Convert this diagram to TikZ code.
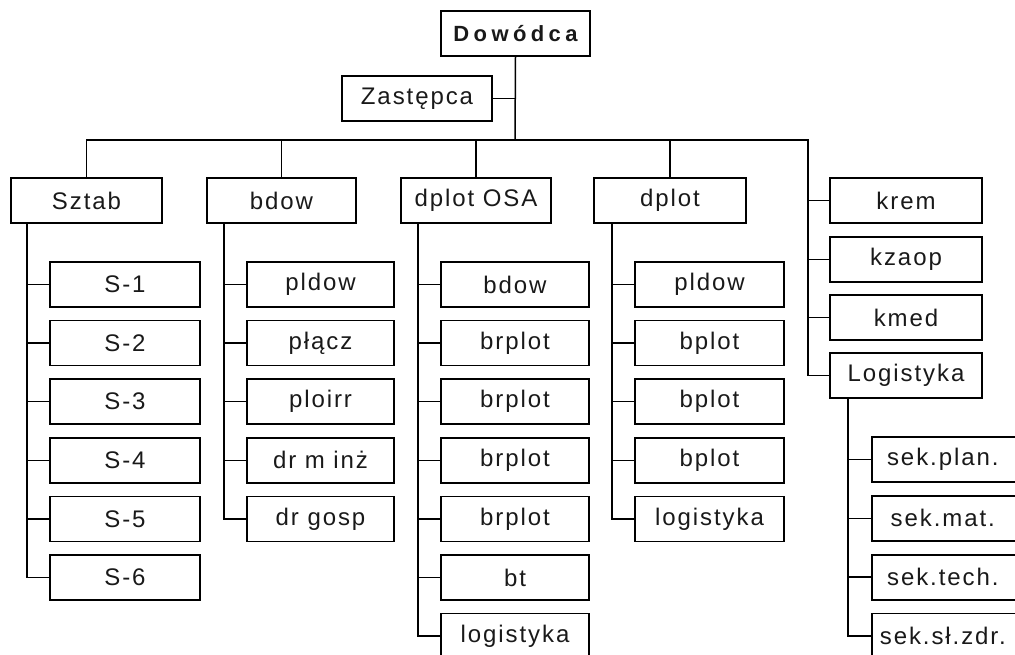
\documentclass[tikz,border=0pt]{standalone}
\usepackage{fontspec}
\setmainfont{Liberation Sans}[LetterSpace=8]
\newfontfamily\headfont{Liberation Sans}[LetterSpace=20]
\begin{document}
\begin{tikzpicture}[x=1pt,y=-1pt,
  unit/.style={draw, line width=1.6pt, minimum width=150pt, minimum height=45pt, inner sep=0pt, font=\fontsize{24}{26}\selectfont, text=black!90},
  sub/.style={unit, minimum width=148pt},
  link/.style={line width=1.5pt}]
\useasboundingbox (0,0) rectangle (1015,654);
% top
\node[unit, minimum width=149pt, font=\headfont\fontsize{22}{24}\selectfont\bfseries] (dow) at (515.5,33.5) {Dowódca};
\node[unit] (zas) at (417,98.5) {Zastępca};
% level 1
\node[unit, minimum width=151pt] (sztab) at (86.5,200.5) {Sztab};
\node[unit, minimum width=149pt] (bdow) at (281.5,200.5) {bdow};
\node[unit] (osa) at (476,200.5) {dplot OSA};
\node[unit, minimum width=152pt] (dplot) at (670,200.5) {dplot};
\node[unit, minimum width=152pt] (krem) at (906,200.5) {krem};
\node[unit, minimum width=152pt] (kzaop) at (906,259.5) {kzaop};
\node[unit, minimum width=152pt] (kmed) at (906,317.5) {kmed};
\node[unit, minimum width=152pt] (log) at (906,375.5) {Logistyka};
% Sztab children
\foreach \t [count=\i from 0] in {S-1,S-2,S-3,S-4,S-5,S-6}
  \node[unit] (s\i) at (125,284.5+58.6*\i) {\t};
% bdow children
\foreach \t [count=\i from 0] in {pldow,płącz,ploirr,dr m inż,dr gosp}
  \node[sub, minimum width=147pt] (b\i) at (320.5,284.5+58.6*\i) {\t};
% dplot OSA children
\foreach \t [count=\i from 0] in {bdow,brplot,brplot,brplot,brplot,bt,logistyka}
  \node[sub] (o\i) at (515,284.5+58.6*\i) {\t};
% dplot children
\foreach \t [count=\i from 0] in {pldow,bplot,bplot,bplot,logistyka}
  \node[sub, minimum width=149pt] (d\i) at (709.5,284.5+58.6*\i) {\t};
% Logistyka children
\foreach \t [count=\i from 0] in {sek.plan.,sek.mat.,sek.tech.,sek.sł.zdr.}
  \node[unit, anchor=west, align=left, text width=150pt, inner xsep=0pt] (k\i) at (871,459.5+58.85*\i) {\hspace*{-6pt}\hfill\t\hfill\hspace*{2pt}};
% coordinates
\coordinate (bus) at (515,140);
\coordinate (busR) at (808,140);
\coordinate (tS) at (27,0);
\coordinate (tB) at (224,0);
\coordinate (tO) at (418,0);
\coordinate (tD) at (612,0);
\coordinate (tL) at (848,0);
% top connectors
\draw[link] (dow.south) -- (bus);
\draw[link] (zas.east) -- (zas.east -| dow.south);
\draw[link] (sztab.north) |- (busR) -- (busR |- log.west) -- (log.west);
\draw[link] (bdow.north) -- (bdow.north |- bus);
\draw[link] (osa.north) -- (osa.north |- bus);
\draw[link] (dplot.north) -- (dplot.north |- bus);
\foreach \n in {krem,kzaop,kmed}
  \draw[link] (\n.west) -- (\n.west -| busR);
% Sztab
\draw[link] (sztab.south -| tS) |- (s5.west);
\foreach \i in {0,...,4} \draw[link] (s\i.west) -- (s\i.west -| tS);
% bdow
\draw[link] (bdow.south -| tB) |- (b4.west);
\foreach \i in {0,...,3} \draw[link] (b\i.west) -- (b\i.west -| tB);
% dplot OSA
\draw[link] (osa.south -| tO) |- (o6.west);
\foreach \i in {0,...,5} \draw[link] (o\i.west) -- (o\i.west -| tO);
% dplot
\draw[link] (dplot.south -| tD) |- (d4.west);
\foreach \i in {0,...,3} \draw[link] (d\i.west) -- (d\i.west -| tD);
% Logistyka
\draw[link] (log.south -| tL) |- (k3.west);
\foreach \i in {0,...,2} \draw[link] (k\i.west) -- (k\i.west -| tL);
\end{tikzpicture}
\end{document}
